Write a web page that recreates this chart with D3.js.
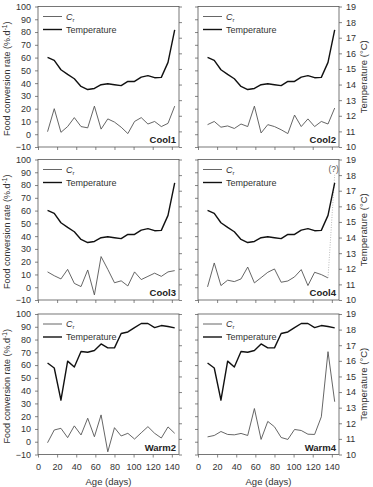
<!DOCTYPE html>
<html>
<head>
<meta charset="utf-8">
<script src="https://cdn.jsdelivr.net/npm/d3@7"></script>
<style>
    body { margin: 0; background: #fff; }
    svg { display: block; font-family: 'Liberation Sans', Arial, sans-serif; }
</style>
</head>
<body>
<svg id="chart" width="373" height="487"></svg>
<script>
// sampling ages (days)
const ages = [10, 17, 24, 31, 38, 45, 52, 59, 66, 73, 80, 87, 94, 101, 108, 115, 122, 129, 136, 143];

// temperature (°C), same profile in every cool / warm tank
const coolTemp = [15.74, 15.55, 14.95, 14.65, 14.37, 13.88, 13.68, 13.75, 13.99, 14.05,
    13.99, 13.93, 14.2, 14.2, 14.48, 14.57, 14.44, 14.46, 15.42, 17.5];
const warmTemp = [15.86, 15.54, 13.48, 15.98, 15.61, 16.6, 16.55, 16.66, 17.08, 16.83,
    16.83, 17.75, 17.85, 18.13, 18.39, 18.39, 18.13, 18.26, 18.2, 18.11];

// food conversion rate Cr (%.d-1)
const cool1Cr = [2, 20, 1.5, 6, 13, 6, 5, 22, 4, 12, 9.5, 5.5, 0.5, 10, 13, 8, 10, 6, 8.5, 22];
const cool2Cr = [7.5, 10, 5.5, 6.5, 4.5, 8, 6, 22, 1, 7.5, 6, 3.5, 0.5, 15, 6, 12, 6, 10, 8, 20.5];
const cool3Cr = [12, 9, 6.5, 14, 3, 0.5, 13.5, -6, 24, 14, 3.5, 5, 1, 12, 6, 8.5, 11, 8.5, 12, 13];
const cool4Cr = [0.3, 19, 1.3, 5.5, 4.4, 6.5, 15.8, 3.4, 7.5, 11.7, 14.3, 3.9, 4.9, 8.1, 13.8, 1.3, 11.7, 9.9, 7.3, null];
const cool4Unknown = 88; // last Cr of Cool4 is off-scale, drawn dotted
const warm2Cr = [-0.8, 9.2, 10.5, 3.2, 12.4, 5.3, 18.4, 3.9, 21, -7.9, 11, 4.5, 6.6, 2.1, 7, 11.8, 6.6, 2.9, 11.6, 6.6];
const warm4Cr = [3.8, 4.9, 8, 5.7, 5.4, 6.5, 4.9, 26, 1.8, 15.9, 11.7, 3.3, 1.8, 9.6, 8.8, 5.9, 5.7, 19.5, 70.5, 31.3];

// tick labels
const crTicks = [-10, 0, 10, 20, 30, 40, 50, 60, 70, 80, 90, 100];
const tempTicks = [10, 11, 12, 13, 14, 15, 16, 17, 18, 19];
const ageTicks = [0, 20, 40, 60, 80, 100, 120, 140];

const panels = [
    { name: 'Cool1', cr: cool1Cr, temp: coolTemp },
    { name: 'Cool2', cr: cool2Cr, temp: coolTemp },
    { name: 'Cool3', cr: cool3Cr, temp: coolTemp },
    { name: 'Cool4', cr: cool4Cr, temp: coolTemp, unknown: cool4Unknown },
    { name: 'Warm2', cr: warm2Cr, temp: warmTemp },
    { name: 'Warm4', cr: warm4Cr, temp: warmTemp }
];

const colX = [38, 198];
const rowY = [6.5, 159.5, 314];
const w = 141;
const h = 140.5;

const svg = d3.select('#chart');
const x = d3.scaleLinear().domain([0, 147.5]).range([0, w]);
const yCr = d3.scaleLinear().domain([-10, 100]).range([h, 0]);
const yT = d3.scaleLinear().domain([10, 19]).range([h, 0]);

const styleAxis = g => {
    g.select('.domain').remove();
    g.selectAll('line').attr('stroke', '#666').attr('stroke-width', 0.8);
    g.selectAll('text').attr('fill', '#333').style('font-size', '9px');
};

const drawPanel = (p, i) => {
    const col = i % 2;
    const row = Math.floor(i / 2);
    const g = svg.append('g').attr('transform', `translate(${colX[col]},${rowY[row]})`);

    g.append('g').call(
        d3.axisLeft(yCr).tickValues(crTicks).tickSize(3).tickPadding(4)
            .tickFormat(col === 0 ? d3.format('d') : () => '')
    ).call(styleAxis);

    g.append('g').attr('transform', `translate(${w},0)`).call(
        d3.axisRight(yT).tickValues(tempTicks).tickSize(3).tickPadding(4)
            .tickFormat(col === 1 ? d3.format('d') : () => '')
    ).call(styleAxis);

    g.append('g').attr('transform', `translate(0,${h})`).call(
        d3.axisBottom(x).tickValues(ageTicks).tickSize(3).tickPadding(6)
            .tickFormat(row === 2 ? d3.format('d') : () => '')
    ).call(styleAxis);

    g.append('rect')
        .attr('width', w).attr('height', h)
        .attr('fill', 'none').attr('stroke', '#555').attr('stroke-width', 0.8);

    const crLine = d3.line()
        .defined(d => d[1] != null)
        .x(d => x(d[0])).y(d => yCr(d[1]));
    const tLine = d3.line().x(d => x(d[0])).y(d => yT(d[1]));

    g.append('path')
        .datum(ages.map((a, k) => [a, p.cr[k]]))
        .attr('d', crLine)
        .attr('fill', 'none').attr('stroke', '#555').attr('stroke-width', 0.9);

    if (p.unknown != null) {
        const k = p.cr.length - 2;
        g.append('path')
            .datum([[ages[k], p.cr[k]], [ages[k + 1], p.unknown]])
            .attr('d', crLine)
            .attr('fill', 'none').attr('stroke', '#aaa').attr('stroke-width', 0.8)
            .attr('stroke-dasharray', '1,1.5');
        g.append('text')
            .attr('x', x(ages[k + 1]) - 1).attr('y', yCr(p.unknown) - 3)
            .attr('text-anchor', 'middle')
            .attr('fill', '#555').style('font-size', '8.5px')
            .text('(?)');
    }

    g.append('path')
        .datum(ages.map((a, k) => [a, p.temp[k]]))
        .attr('d', tLine)
        .attr('fill', 'none').attr('stroke', '#111').attr('stroke-width', 1.4)
        .attr('stroke-linejoin', 'round');

    // legend
    g.append('line').attr('x1', 5).attr('x2', 24).attr('y1', 10).attr('y2', 10)
        .attr('stroke', '#555').attr('stroke-width', 0.9);
    const crText = g.append('text').attr('x', 28).attr('y', 13)
        .attr('fill', '#333').style('font-size', '9px');
    crText.append('tspan').style('font-style', 'italic').text('C');
    crText.append('tspan').attr('dy', 2).style('font-size', '6px').text('r');

    g.append('line').attr('x1', 5).attr('x2', 24).attr('y1', 23).attr('y2', 23)
        .attr('stroke', '#111').attr('stroke-width', 1.4);
    g.append('text').attr('x', 28).attr('y', 26)
        .attr('fill', '#333').style('font-size', '9px')
        .text('Temperature');

    g.append('text')
        .attr('x', w - 3).attr('y', h - 4)
        .attr('text-anchor', 'end')
        .attr('fill', '#222').style('font-size', '9.5px').style('font-weight', 'bold')
        .text(p.name);
};

panels.forEach(drawPanel);

// axis titles
rowY.forEach(top => {
    const cy = top + h / 2;
    const t = svg.append('text')
        .attr('transform', `translate(10,${cy + 2}) rotate(-90)`)
        .attr('text-anchor', 'middle')
        .attr('fill', '#333').style('font-size', '9px');
    t.append('tspan').text('Food conversion rate (%.d');
    t.append('tspan').attr('dy', -3).style('font-size', '6.5px').text('-1');
    t.append('tspan').attr('dy', 3).text(')');

    svg.append('text')
        .attr('transform', `translate(367,${cy}) rotate(-90)`)
        .attr('text-anchor', 'middle')
        .attr('fill', '#333').style('font-size', '9.5px')
        .text('Temperature (°C)');
});

colX.forEach(left => {
    svg.append('text')
        .attr('x', left + w / 2).attr('y', 485)
        .attr('text-anchor', 'middle')
        .attr('fill', '#333').style('font-size', '9.5px')
        .text('Age (days)');
});
</script>
</body>
</html>
